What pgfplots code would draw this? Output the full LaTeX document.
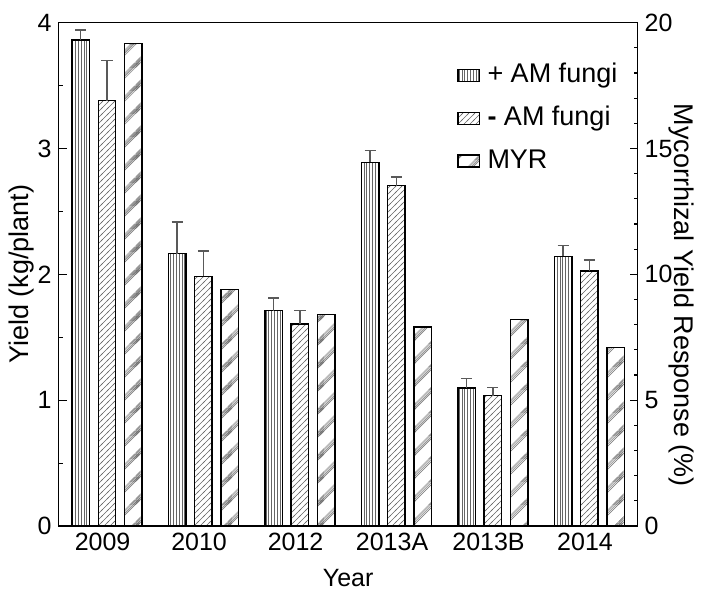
\documentclass[border=0pt]{standalone}
\usepackage{fontspec}
\setmainfont{Liberation Sans}
\usepackage{pgfplots}
\pgfplotsset{compat=1.18}
\usetikzlibrary{patterns}

\pgfdeclarepatternformonly{vlines}{\pgfqpoint{-0.5pt}{-0.5pt}}{\pgfqpoint{0.5pt}{2pt}}{\pgfqpoint{1.4pt}{1.5pt}}{%
  \pgfsetlinewidth{0.3pt}%
  \pgfpathmoveto{\pgfqpoint{0pt}{-0.5pt}}\pgfpathlineto{\pgfqpoint{0pt}{2pt}}\pgfusepath{stroke}}
\pgfdeclarepatternformonly{nelines}{\pgfqpoint{-0.5pt}{-0.5pt}}{\pgfqpoint{3.5pt}{3.5pt}}{\pgfqpoint{3pt}{3pt}}{%
  \pgfsetlinewidth{0.3pt}%
  \pgfpathmoveto{\pgfqpoint{-0.5pt}{-0.5pt}}\pgfpathlineto{\pgfqpoint{3.5pt}{3.5pt}}\pgfusepath{stroke}}
\newcommand\myrline[1]{\pgfpathmoveto{\pgfpoint{-1pt}{-1pt+#1pt}}\pgfpathlineto{\pgfpoint{12.5pt}{12.5pt+#1pt}}}
\pgfdeclarepatternformonly{myrbands}{\pgfqpoint{-1pt}{-1pt}}{\pgfqpoint{12.5pt}{12.5pt}}{\pgfqpoint{11.5pt}{11.5pt}}{%
  \pgfsetlinewidth{0.22pt}%
  \myrline{0}\myrline{0.9}\myrline{1.8}\myrline{2.7}%
  \myrline{-11.5}\myrline{-10.6}\myrline{-9.7}\myrline{-8.8}%
  \myrline{11.5}\myrline{12.4}\myrline{13.3}%
  \pgfusepath{stroke}}

\newcommand\fs{\fontsize{12.5}{14.5}\selectfont}
\newcommand\fl{\fontsize{13.5}{16}\selectfont}
\newcommand\fg{\fontsize{13.5}{16}\selectfont}

\pgfplotstableread{
x y e
-0.272 3.863 0.077
0.728 2.164 0.251
1.728 1.712 0.100
2.728 2.889 0.095
3.728 1.098 0.074
4.728 2.143 0.085
}\plusam
\pgfplotstableread{
x y e
0 3.380 0.320
1 1.984 0.201
2 1.606 0.108
3 2.706 0.069
4 1.037 0.063
5 2.026 0.087
}\minusam
\pgfplotstableread{
x y
0.272 19.18
1.272 9.40
2.272 8.41
3.272 7.91
4.272 8.20
5.272 7.10
}\myr

\begin{document}
\begin{tikzpicture}
\pgfplotsset{
  common/.style={
    scale only axis, width=289.5pt, height=251.7pt,
    xmin=-0.5, xmax=5.5,
    tick align=inside,
    major tick length=4pt, minor tick length=2pt,
    axis line style={line width=0.7pt},
    every tick/.style={black, line width=0.6pt},
    tick label style={font=\fs},
    /pgf/number format/assume math mode=true,
  },
  errstyle/.style={error bars/.cd, y dir=plus, y explicit,
    error bar style={black!65, line width=0.8pt},
    error mark options={rotate=90, black!65, line width=0.8pt, mark size=2.8pt}},
}
\begin{axis}[common, name=ax,
  ymin=0, ymax=4,
  xtick={-0.045,0.955,1.955,2.955,3.955,4.955}, xticklabels={2009,2010,2012,2013A,2013B,2014},
  major x tick style={draw=none},
  ytick={0,1,2,3,4}, minor ytick={0.5,1.5,2.5,3.5},
  ytick pos=left,
  xlabel={Year}, ylabel={Yield (kg/plant)},
  every axis x label/.style={at={(axis description cs:0.5,-0.1033)}, anchor=center, font=\fs},
  every axis y label/.style={at={(axis description cs:-0.0634,0.5)}, anchor=center, rotate=90, font=\fl},
]
\addplot[ybar, bar width=0.18, bar shift=0pt, draw=black, line width=0.75pt,
  pattern=vlines, pattern color=black!60, errstyle]
  table[x=x, y=y, y error=e] {\plusam};
\addplot[ybar, bar width=0.18, bar shift=0pt, draw=black, line width=0.75pt,
  pattern=nelines, pattern color=black!60, errstyle]
  table[x=x, y=y, y error=e] {\minusam};
\end{axis}
\begin{axis}[common,
  ymin=0, ymax=20,
  axis x line=none, axis y line*=right,
  ytick={0,5,10,15,20}, minor ytick={1,2,3,4,6,7,8,9,11,12,13,14,16,17,18,19},
  ylabel={Mycorrhizal Yield Response (\%)},
  every axis y label/.style={at={(axis description cs:1.075,0.458)}, anchor=center, rotate=-90, font=\fl},
  legend style={draw=none, fill=none, inner sep=0pt, row sep=6pt, column sep=2.5pt,
    at={(rel axis cs:0.6875,0.810)}, anchor=west,
    nodes={inner sep=1.2pt, text height=10pt, text depth=3pt, font=\fg}},
  legend cell align=left,
]
\addlegendimage{legend image code/.code={\draw[draw=black, line width=0.7pt, pattern=vlines, pattern color=black!60] (0pt,-3pt) rectangle (10.8pt,3pt);}}
\addlegendentry{+ AM fungi}
\addlegendimage{legend image code/.code={\draw[draw=black, line width=0.7pt, pattern=nelines, pattern color=black!60] (0pt,-3pt) rectangle (10.8pt,3pt);}}
\addlegendentry{\textbf{-} AM fungi}
\addlegendimage{legend image code/.code={\draw[draw=black, line width=0.7pt, pattern=myrbands, pattern color=black!55] (0pt,-3pt) rectangle (10.8pt,3pt);}}
\addlegendentry{MYR}
\addplot[ybar, bar width=0.18, bar shift=0pt, draw=black, line width=0.75pt,
  pattern=myrbands, pattern color=black!55, forget plot]
  table[x=x, y=y] {\myr};
\end{axis}
\pgfresetboundingbox
\path ([xshift=-29.35pt,yshift=-34pt]ax.south west) rectangle ([xshift=33.2pt,yshift=11.35pt]ax.north east);
\end{tikzpicture}
\end{document}
